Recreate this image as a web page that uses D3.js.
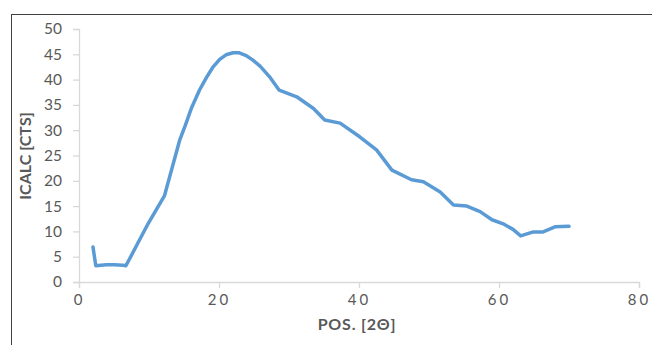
<!DOCTYPE html>
<html>
<head>
<meta charset="utf-8">
<script src="https://cdn.jsdelivr.net/npm/d3@7"></script>
<style>
  body { margin: 0; background: #fff; }
  text { font-family: Lato, "Open Sans", sans-serif; }
</style>
</head>
<body>
<div id="chart"></div>
<script>
// values
const pos = [2.0, 2.4, 3.9, 5.0, 6.3, 6.7, 9.9, 12.2, 14.4, 15.2, 16.1, 17.2, 18.2, 19.1, 20.1, 21.0, 22.0, 22.9, 23.8, 24.8, 25.9, 27.2, 28.6, 31.1, 33.5, 35.1, 37.3, 40.1, 42.5, 44.7, 47.5, 49.2, 51.6, 53.5, 55.4, 57.3, 59.0, 60.6, 62.0, 63.1, 64.9, 66.3, 68.0, 70.0];
const icalc = [6.9, 3.2, 3.4, 3.4, 3.3, 3.2, 11.6, 17.0, 28.1, 31.0, 34.5, 37.9, 40.4, 42.4, 44.0, 44.9, 45.3, 45.3, 44.8, 43.9, 42.6, 40.6, 37.9, 36.6, 34.3, 32.0, 31.4, 28.7, 26.1, 22.1, 20.2, 19.8, 17.8, 15.2, 15.0, 13.9, 12.3, 11.5, 10.4, 9.1, 9.9, 9.9, 10.9, 11.0];
const xTicks = [0, 20, 40, 60, 80];
const yTicks = [0, 5, 10, 15, 20, 25, 30, 35, 40, 45, 50];

const w = 652, h = 345;
const plotL = 79, plotR = 639, plotT = 29, plotB = 282;

const svg = d3.select("#chart").append("svg")
    .attr("width", w)
    .attr("height", h);

// outer frame
svg.append("rect")
    .attr("x", 11.5).attr("y", 14.5)
    .attr("width", 700).attr("height", 400)
    .attr("fill", "none")
    .attr("stroke", "#404040")
    .attr("stroke-width", 1);

const x = d3.scaleLinear().domain([0, 80]).range([plotL, plotR]);
const y = d3.scaleLinear().domain([0, 50]).range([plotB, plotT]);

const xAxis = svg.append("g")
    .attr("transform", `translate(0,${plotB})`)
    .call(d3.axisBottom(x).tickValues(xTicks).tickSizeOuter(0).tickSize(6).tickPadding(6));
xAxis.selectAll("text")
    .style("font-size", "15px")
    .style("letter-spacing", "3px")
    .attr("fill", "#595959");

const yAxis = svg.append("g")
    .attr("transform", `translate(${plotL},0)`)
    .call(d3.axisLeft(y).tickValues(yTicks).tickSizeOuter(0).tickSize(6).tickPadding(11));
yAxis.selectAll("text")
    .style("font-size", "15.5px")
    .attr("fill", "#595959");

svg.selectAll(".domain, .tick line")
    .attr("stroke", "#d9d9d9")
    .attr("stroke-width", 1.3);

const line = d3.line()
    .x((d, i) => x(pos[i]))
    .y(d => y(d));

svg.append("path")
    .datum(icalc)
    .attr("d", line)
    .attr("fill", "none")
    .attr("stroke", "#5b9bd5")
    .attr("stroke-width", 3.5)
    .attr("stroke-linejoin", "round")
    .attr("stroke-linecap", "round");

svg.append("text")
    .attr("x", 357).attr("y", 330)
    .attr("text-anchor", "middle")
    .style("font-size", "16px")
    .style("letter-spacing", "0.8px")
    .style("font-weight", "bold")
    .attr("fill", "#595959")
    .text("POS. [2Θ]");

svg.append("text")
    .attr("transform", "translate(31,156) rotate(-90)")
    .attr("text-anchor", "middle")
    .style("font-size", "16px")
    .style("font-weight", "bold")
    .attr("fill", "#595959")
    .text("ICALC [CTS]");
</script>
</body>
</html>
